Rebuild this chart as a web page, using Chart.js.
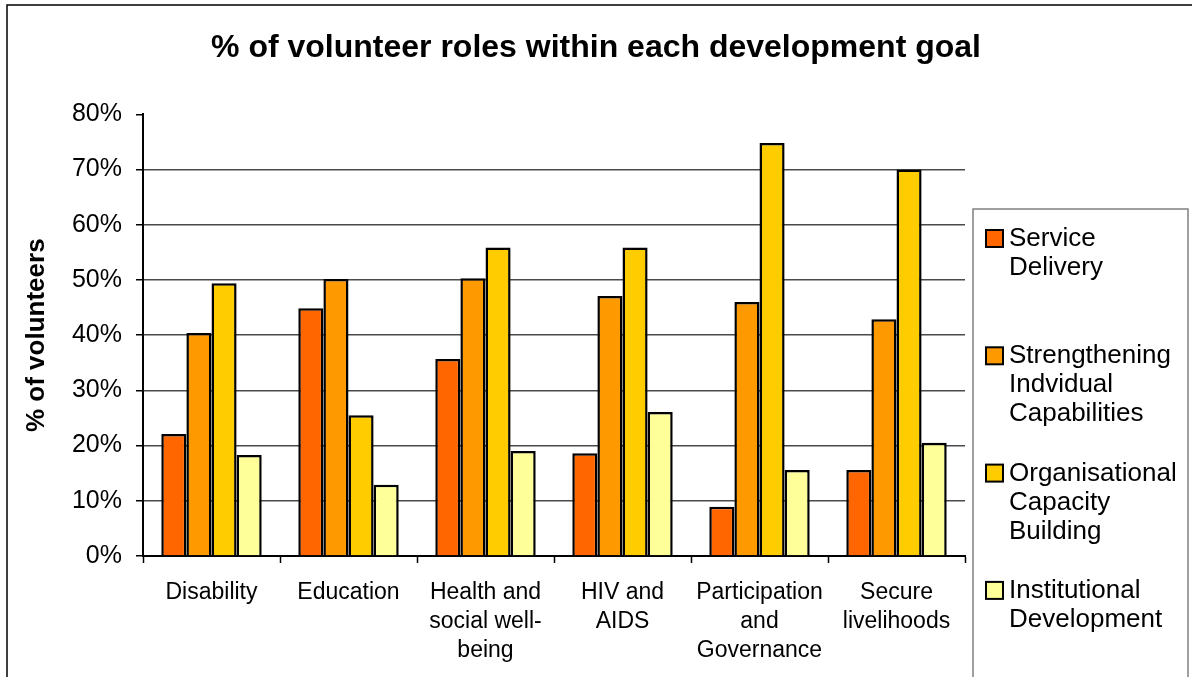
<!DOCTYPE html>
<html>
<head>
<meta charset="utf-8">
<script src="https://cdn.jsdelivr.net/npm/chart.js@4"></script>
<style>
  html, body { margin: 0; padding: 0; background: #fff; }
  #wrap { position: relative; width: 1192px; height: 677px; }
</style>
</head>
<body>
<div id="wrap"><canvas id="chart"></canvas></div>
<script>
// % de roles de voluntarios por objetivo de desarrollo
const categories = [
  'Disability',
  'Education',
  ['Health and', 'social well-', 'being'],
  ['HIV and', 'AIDS'],
  ['Participation', 'and', 'Governance'],
  ['Secure', 'livelihoods']
];
const serviceDelivery = [22.1, 44.9, 35.7, 18.6, 8.9, 15.6];
const strengtheningIndividual = [40.4, 50.2, 50.3, 47.1, 46.0, 42.9];
const organisationalCapacity = [49.4, 25.5, 55.9, 55.9, 74.8, 70.0];
const institutionalDevelopment = [18.3, 12.9, 19.0, 26.1, 15.6, 20.5];
const seriesNames = [
  ['Service', 'Delivery'],
  ['Strengthening', 'Indvidual', 'Capabilities'],
  ['Organisational', 'Capacity', 'Building'],
  ['Institutional', 'Development']
];
const seriesColors = ['#FF6600', '#FF9900', '#FFCC00', '#FFFF99'];
const yMin = 0, yMax = 80, yStep = 10;

const FONT = "'Liberation Sans', Arial, sans-serif";
const seriesValues = [serviceDelivery, strengtheningIndividual, organisationalCapacity, institutionalDevelopment];

// marco exterior + leyenda con caja (texto en varias líneas)
const decorations = {
  id: 'decorations',
  beforeDraw(chart) {
    const ctx = chart.ctx;
    ctx.save();
    ctx.strokeStyle = '#000';
    ctx.lineWidth = 1.5;
    ctx.strokeRect(7, 5, 1300, 800);
    ctx.restore();
  },
  afterDraw(chart) {
    const ctx = chart.ctx;
    ctx.save();
    ctx.strokeStyle = '#808080';
    ctx.lineWidth = 1.5;
    ctx.strokeRect(973, 209, 215, 600);
    ctx.font = '26px ' + FONT;
    ctx.textBaseline = 'middle';
    ctx.textAlign = 'left';
    chart.data.datasets.forEach((ds, i) => {
      const y0 = 239 + i * 117.3;
      ctx.fillStyle = ds.backgroundColor;
      ctx.fillRect(986, y0 - 9, 17, 17);
      ctx.strokeStyle = '#000';
      ctx.lineWidth = 2;
      ctx.strokeRect(986, y0 - 9, 17, 17);
      ctx.fillStyle = '#000';
      seriesNames[i].forEach((line, j) => ctx.fillText(line, 1009, y0 + j * 29));
    });
    ctx.restore();
  }
};

new Chart(document.getElementById('chart'), {
  type: 'bar',
  data: {
    labels: categories,
    datasets: seriesValues.map((vals, i) => ({
      label: seriesNames[i].join(' '),
      data: vals,
      backgroundColor: seriesColors[i],
      borderColor: '#000',
      borderWidth: 2.5,
      categoryPercentage: 0.733,
      barPercentage: 1
    }))
  },
  options: {
    responsive: true,
    maintainAspectRatio: false,
    animation: false,
    layout: { padding: 0 },
    plugins: {
      legend: { display: false },
      tooltip: { enabled: false },
      title: {
        display: true,
        text: '% of volunteer roles within each development goal',
        color: '#000',
        font: { family: FONT, size: 32, weight: 'bold' },
        padding: { top: 29, bottom: 47 }
      }
    },
    scales: {
      x: {
        grid: { offset: true, drawOnChartArea: false, tickLength: 7, tickColor: '#000', tickWidth: 1.5 },
        border: { color: '#000', width: 2 },
        ticks: { color: '#000', font: { family: FONT, size: 23, lineHeight: 1.26 }, padding: 15, maxRotation: 0, autoSkip: false },
        afterFit(s) { s.height = 121; }
      },
      y: {
        min: yMin, max: yMax,
        grid: {
          color: c => (c.tick && c.tick.value === yMax) ? 'rgba(0,0,0,0)' : '#4a4a4a',
          lineWidth: 1.5,
          tickLength: 7, tickColor: '#000', tickWidth: 1.5
        },
        border: { color: '#000', width: 2 },
        ticks: {
          stepSize: yStep, color: '#000', padding: 14,
          font: { family: FONT, size: 25 },
          callback: v => v + '%'
        },
        title: {
          display: true, text: '% of volunteers', color: '#000',
          font: { family: FONT, size: 26, weight: 'bold' },
          padding: { top: 21, bottom: 0 }
        },
        afterFit(s) { s.width = 143; }
      },
      // eje vacío a la derecha: reserva el hueco de la leyenda
      legendSpace: {
        position: 'right', display: true,
        grid: { display: false }, border: { display: false },
        ticks: { display: false },
        afterFit(s) { s.width = 227; }
      }
    }
  },
  plugins: [decorations]
});
</script>
</body>
</html>
